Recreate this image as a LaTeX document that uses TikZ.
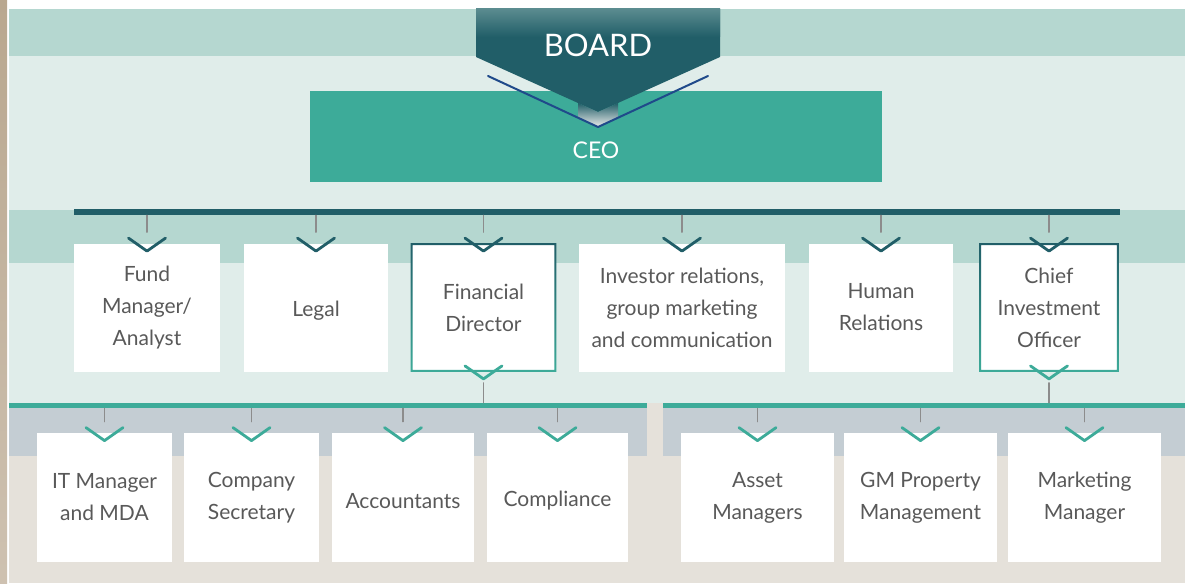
\documentclass[tikz,border=0pt]{standalone}
\usepackage{fontspec}
\newfontfamily\orgfont{Lato}
\definecolor{dkteal}{HTML}{215E68}
\definecolor{boardtop}{HTML}{5A8B8F}
\definecolor{ceogreen}{HTML}{3DAB99}
\definecolor{bandc}{HTML}{B5D7D0}
\definecolor{panelc}{HTML}{E0EDEA}
\definecolor{greyband}{HTML}{C4CDD3}
\definecolor{beige}{HTML}{E5E1DA}
\definecolor{strip}{HTML}{B9A78F}
\definecolor{txt}{HTML}{595959}
\definecolor{tickc}{HTML}{8C8C8C}
\definecolor{lineblue}{HTML}{1F4A8A}
\tikzset{
	box/.style = {rectangle, fill = white, inner sep = 0pt, align = center, text = txt,
		font = \orgfont\fontsize{10.5}{16}\selectfont, execute at begin node = \rule{0pt}{11pt}},
	rowtwo/.style = {box, minimum height = 64pt},
	rowthree/.style = {box, minimum height = 64.5pt},
	barbox/.style = {rectangle, inner sep = 0pt, minimum height = #1},
	tick/.style = {tickc, line width = 0.8pt},
	chevdk/.style = {dkteal, line width = 1.4pt},
	chevgr/.style = {ceogreen, line width = 1.4pt},
	chev/.pic = {\draw (-18.5,-5)--(0,8)--(18.5,-5);}
}
\begin{document}
\begin{tikzpicture}[x = 0.5pt, y = -0.5pt, line join = round, line cap = round]
			\useasboundingbox (0,0) rectangle (1187,583);
			%Vẽ nền
			\fill[white] (0,0) rectangle (1187,583);
			\shade[top color = strip, bottom color = strip!70!white] (0,0) rectangle (7,583);
			\fill[bandc] (9,9) rectangle (1185,56);
			\fill[panelc] (9,56) rectangle (1185,403);
			\fill[bandc] (9,210) rectangle (1185,263);
			\fill[beige] (9,403) rectangle (1185,583);
			\fill[greyband] (9,408) rectangle (647,456);
			\fill[greyband] (663,408) rectangle (1185,456);
			%Ô CEO
			\node[rectangle, fill = ceogreen, inner sep = 0pt, minimum width = 286pt, minimum height = 45.5pt] (ceo) at (596,136.5) {};
			\node[text = white, font = \orgfont\fontsize{11.5}{14}\selectfont] at ([yshift = -6.75pt]ceo.center) {CEO};
			%Hình BOARD
			\fill[dkteal] (476,9)--(720,9)--(720,57)--(598,112)--(476,57)--cycle;
			\shade[top color = boardtop, bottom color = dkteal] (476,9) rectangle (720,37);
			\shade[top color = dkteal, bottom color = white!85!gray]
				(578,103)--(598,112)--(618,103)--(618,117.6)--(598,127)--(578,117.6)--cycle;
			\draw[lineblue, line width = 1pt] (488,76)--(598,127)--(708,76);
			\node[text = white, font = \orgfont\fontsize{15.5}{18}\selectfont] (board) at (598,45) {BOARD};
			%Các thanh ngang
			\node[barbox = 3pt, fill = dkteal, minimum width = 523pt] (topbar) at (597,212) {};
			\node[barbox = 2.5pt, fill = ceogreen, minimum width = 319pt] (leftbar) at (328,405.5) {};
			\node[barbox = 2.5pt, fill = ceogreen, minimum width = 261pt] (rightbar) at (924,405.5) {};
			%Hàng thứ hai
			\node[rowtwo, minimum width = 73pt] (fund) at (147,307.5) {Fund\\Manager/\\Analyst};
			\node[rowtwo, minimum width = 72pt] (legal) at (316,307.5) {Legal};
			\node[rowtwo, minimum width = 72.5pt] (fin) at (483.5,307.5) {Financial\\Director};
			\node[rowtwo, minimum width = 103pt] (inv) at (682,307.5) {Investor relations,\\group marketing\\and communication};
			\node[rowtwo, minimum width = 72pt] (hr) at (881,307.5) {Human\\Relations};
			\node[rowtwo, minimum width = 69.5pt] (cio) at (1049,307.5) {Chief\\Investment\\Officer};
			\foreach \n in {fin,cio}
			\shade[top color = dkteal, bottom color = ceogreen, even odd rule]
				(\n.north west) rectangle (\n.south east)
				([xshift = 1pt, yshift = -1pt]\n.north west) rectangle ([xshift = -1pt, yshift = 1pt]\n.south east);
			\foreach \n in {fund,legal,fin,inv,hr,cio}{
					\draw[tick] (topbar.south -| \n.north)--([yshift = 5.5pt]\n.north);
					\pic[chevdk] at (\n.north) {chev};
				}
			%Nối xuống hàng thứ ba
			\foreach \n/\b in {fin/leftbar,cio/rightbar}{
					\pic[chevgr] at ([yshift = 0.5pt]\n.south) {chev};
					\draw[tick] ([yshift = -5.5pt]\n.south)--(\n.south |- \b.north);
				}
			%Hàng thứ ba
			\node[rowthree, minimum width = 67.5pt] (itm) at (104.5,497.5) {IT Manager\\and MDA};
			\node[rowthree, minimum width = 67.5pt] (sec) at (251.5,497.5) {Company\\Secretary};
			\node[rowthree, minimum width = 71pt] (acc) at (403,497.5) {Accountants};
			\node[rowthree, minimum width = 70.5pt] (comp) at (557.5,497.5) {Compliance};
			\node[rowthree, minimum width = 76.5pt] (asset) at (757.5,497.5) {Asset\\Managers};
			\node[rowthree, minimum width = 76.5pt] (gmp) at (920.5,497.5) {GM Property\\Management};
			\node[rowthree, minimum width = 76.5pt] (mkt) at (1084.5,497.5) {Marketing\\Manager};
			\foreach \n/\b in {itm/leftbar,sec/leftbar,acc/leftbar,comp/leftbar,asset/rightbar,gmp/rightbar,mkt/rightbar}{
					\draw[tick] (\b.south -| \n.north)--([yshift = 5.5pt]\n.north);
					\pic[chevgr] at (\n.north) {chev};
				}
		\end{tikzpicture}
\end{document}
